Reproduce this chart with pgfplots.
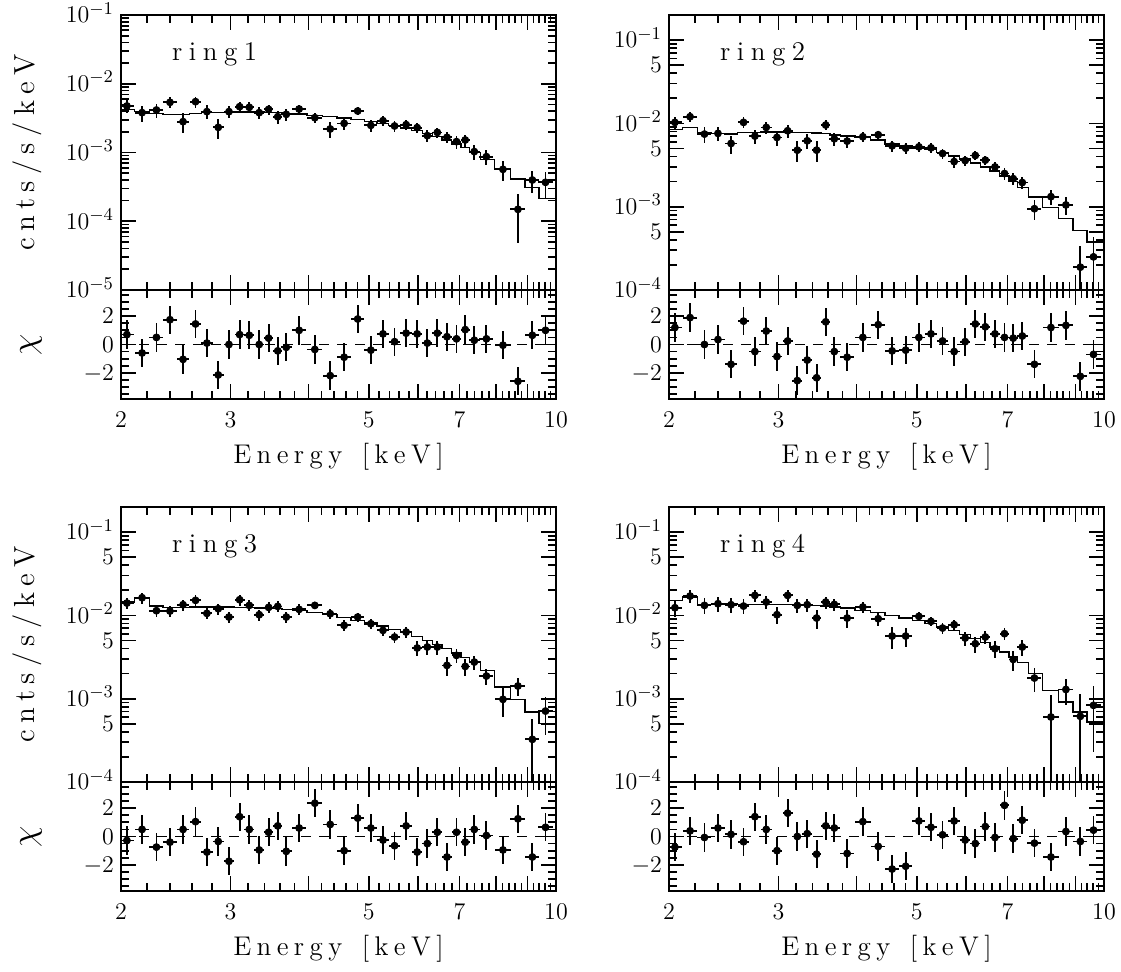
\documentclass[border=0pt]{standalone}
\usepackage{pgfplots}
\usepackage{pgfplotstable}
\pgfplotsset{compat=1.18}
\DeclareMathSizes{12}{12}{8.8}{7}
\DeclareMathSizes{16}{16}{11}{8}
\newcommand{\la}{\kern2.7pt}
\newcommand{\lb}{\kern3.2pt}
\newcommand{\lc}{\kern3.3pt}

\pgfplotstableread{
E xr y ey m chi
2.044 0.0250 4.75e-3 1.0e-3 4.24e-3 0.7
2.162 0.0274 3.80e-3 1.0e-3 3.93e-3 -0.6
2.280 0.0258 4.15e-3 1.0e-3 3.71e-3 0.5
2.397 0.0246 5.37e-3 1.0e-3 3.59e-3 1.75
2.516 0.0236 2.81e-3 0.9e-3 3.59e-3 -1.05
2.635 0.0220 5.49e-3 1.0e-3 3.71e-3 1.45
2.748 0.0210 3.93e-3 0.9e-3 3.80e-3 0.1
2.866 0.0204 2.32e-3 0.75e-3 3.84e-3 -2.15
2.982 0.0198 3.93e-3 0.75e-3 3.84e-3 0.0
3.102 0.0188 4.64e-3 0.8e-3 3.88e-3 0.7
3.215 0.0182 4.54e-3 0.8e-3 3.88e-3 0.65
3.335 0.0180 3.80e-3 0.75e-3 3.88e-3 0.0
3.453 0.0172 4.24e-3 0.75e-3 3.84e-3 0.45
3.572 0.0164 3.32e-3 0.7e-3 3.80e-3 -0.45
3.687 0.0198 3.59e-3 0.7e-3 3.71e-3 -0.2
3.866 0.0264 4.29e-3 0.65e-3 3.63e-3 1.0
4.097 0.0288 3.21e-3 0.55e-3 3.47e-3 -0.35
4.337 0.0272 2.20e-3 0.55e-3 3.32e-3 -2.2
4.566 0.0254 2.65e-3 0.55e-3 3.18e-3 -0.9
4.801 0.0247 4.01e-3 0.55e-3 3.04e-3 1.8
5.041 0.0234 2.48e-3 0.5e-3 2.84e-3 -0.4
5.272 0.0219 2.90e-3 0.45e-3 2.66e-3 0.75
5.503 0.0215 2.43e-3 0.45e-3 2.46e-3 0.2
5.744 0.0210 2.54e-3 0.42e-3 2.27e-3 0.8
5.983 0.0196 2.30e-3 0.4e-3 2.08e-3 0.75
6.212 0.0186 1.76e-3 0.35e-3 1.90e-3 0.1
6.446 0.0181 1.96e-3 0.32e-3 1.70e-3 0.8
6.680 0.0178 1.66e-3 0.3e-3 1.52e-3 0.55
6.921 0.0170 1.44e-3 0.3e-3 1.33e-3 0.4
7.148 0.0165 1.52e-3 0.3e-3 1.19e-3 1.05
7.392 0.0196 1.03e-3 0.25e-3 9.95e-4 0.3
7.731 0.0265 8.70e-4 0.22e-3 7.96e-4 0.4
8.218 0.0292 5.69e-4 0.18e-3 5.69e-4 -0.05
8.686 0.0272 1.49e-4 1.0e-4 4.12e-4 -2.6
9.162 0.0255 3.98e-4 1.4e-4 3.11e-4 0.65
9.619 0.0270 3.68e-4 1.5e-4 2.15e-4 1.0
}\ringA

\pgfplotstableread{
E xr y ey m chi
2.044 0.0250 1.028e-2 1.6e-3 8.47e-3 1.2
2.162 0.0274 1.203e-2 1.6e-3 8.87e-3 1.9
2.280 0.0258 7.44e-3 1.6e-3 7.72e-3 0.0
2.397 0.0246 7.58e-3 1.5e-3 7.58e-3 0.35
2.516 0.0236 5.74e-3 1.4e-3 7.44e-3 -1.4
2.635 0.0220 1.028e-2 1.5e-3 7.72e-3 1.65
2.748 0.0210 7.04e-3 1.4e-3 7.79e-3 -0.5
2.866 0.0204 8.95e-3 1.4e-3 7.86e-3 0.95
2.982 0.0198 6.78e-3 1.4e-3 7.86e-3 -0.85
3.102 0.0188 8.16e-3 1.4e-3 7.86e-3 0.25
3.215 0.0182 4.77e-3 1.3e-3 7.79e-3 -2.55
3.335 0.0180 6.18e-3 1.3e-3 7.72e-3 -1.1
3.453 0.0172 4.77e-3 1.3e-3 7.65e-3 -2.35
3.572 0.0164 9.55e-3 1.3e-3 7.58e-3 1.6
3.687 0.0198 6.53e-3 1.2e-3 7.23e-3 -0.5
3.866 0.0264 6.12e-3 1.1e-3 7.04e-3 -0.9
4.097 0.0288 6.91e-3 0.9e-3 6.78e-3 0.5
4.337 0.0272 7.30e-3 0.85e-3 6.30e-3 1.4
4.566 0.0254 5.38e-3 0.8e-3 5.64e-3 -0.45
4.801 0.0247 5.04e-3 0.75e-3 5.33e-3 -0.4
5.041 0.0234 5.23e-3 0.7e-3 5.09e-3 0.5
5.272 0.0219 5.09e-3 0.65e-3 4.86e-3 0.75
5.503 0.0215 4.35e-3 0.6e-3 4.47e-3 0.25
5.744 0.0210 3.48e-3 0.55e-3 4.04e-3 -0.5
5.983 0.0196 3.58e-3 0.5e-3 3.75e-3 0.2
6.212 0.0186 4.12e-3 0.5e-3 3.36e-3 1.45
6.446 0.0181 3.62e-3 0.45e-3 3.00e-3 1.25
6.680 0.0178 3.00e-3 0.4e-3 2.69e-3 0.75
6.921 0.0170 2.50e-3 0.38e-3 2.34e-3 0.5
7.148 0.0165 2.17e-3 0.35e-3 2.02e-3 0.45
7.392 0.0196 1.95e-3 0.32e-3 1.69e-3 0.6
7.731 0.0265 9.46e-4 0.26e-3 1.31e-3 -1.4
8.218 0.0292 1.32e-3 0.28e-3 9.73e-4 1.2
8.686 0.0272 1.05e-3 0.25e-3 7.17e-4 1.35
9.162 0.0255 1.88e-4 1.45e-4 5.19e-4 -2.25
9.619 0.0270 2.50e-4 1.8e-4 3.75e-4 -0.7
}\ringB

\pgfplotstableread{
E xr y ey m chi
2.044 0.0250 1.406e-2 2.1e-3 1.445e-2 -0.28
2.162 0.0274 1.629e-2 2.4e-3 1.614e-2 0.5
2.280 0.0258 1.138e-2 1.7e-3 1.294e-2 -0.75
2.397 0.0246 1.127e-2 1.7e-3 1.247e-2 -0.4
2.516 0.0236 1.343e-2 2.0e-3 1.247e-2 0.5
2.635 0.0220 1.514e-2 2.3e-3 1.259e-2 1.05
2.748 0.0210 1.057e-2 1.6e-3 1.259e-2 -1.1
2.866 0.0204 1.202e-2 1.8e-3 1.259e-2 -0.35
2.982 0.0198 9.55e-3 1.45e-3 1.259e-2 -1.75
3.102 0.0188 1.542e-2 2.3e-3 1.247e-2 1.4
3.215 0.0182 1.318e-2 2.0e-3 1.236e-2 0.5
3.335 0.0180 1.019e-2 1.55e-3 1.225e-2 -0.95
3.453 0.0172 1.247e-2 1.9e-3 1.225e-2 0.3
3.572 0.0164 1.282e-2 1.9e-3 1.202e-2 0.75
3.687 0.0198 9.55e-3 1.45e-3 1.180e-2 -1.05
3.866 0.0264 1.180e-2 1.75e-3 1.148e-2 0.6
4.097 0.0288 1.318e-2 1.2e-3 1.076e-2 2.35
4.337 0.0272 1.047e-2 1.3e-3 1.019e-2 0.85
4.566 0.0254 7.59e-3 1.1e-3 9.46e-3 -1.0
4.801 0.0247 9.55e-3 1.2e-3 8.71e-3 1.3
5.041 0.0234 7.94e-3 1.1e-3 8.09e-3 0.6
5.272 0.0219 6.61e-3 1.0e-3 7.45e-3 -0.25
5.503 0.0215 5.50e-3 0.85e-3 6.79e-3 -0.65
5.744 0.0210 6.31e-3 0.9e-3 6.19e-3 0.75
5.983 0.0196 4.06e-3 0.8e-3 5.60e-3 -1.1
6.212 0.0186 4.17e-3 0.8e-3 5.01e-3 -0.5
6.446 0.0181 4.17e-3 0.8e-3 4.49e-3 0.3
6.680 0.0178 2.51e-3 0.65e-3 3.98e-3 -1.45
6.921 0.0170 3.31e-3 0.65e-3 3.53e-3 0.3
7.148 0.0165 2.44e-3 0.55e-3 3.13e-3 -0.4
7.392 0.0196 2.75e-3 0.55e-3 2.75e-3 0.5
7.731 0.0265 1.87e-3 0.42e-3 2.19e-3 0.07
8.218 0.0292 9.82e-4 0.38e-3 1.38e-3 -0.95
8.686 0.0272 1.42e-3 0.35e-3 9.82e-4 1.25
9.162 0.0255 3.25e-4 2.5e-4 6.92e-4 -1.45
9.619 0.0270 7.11e-4 3.4e-4 5.01e-4 0.65
}\ringC

\pgfplotstableread{
E xr y ey m chi
2.044 0.0250 1.236e-2 2.8e-3 1.514e-2 -0.75
2.162 0.0274 1.706e-2 3.0e-3 1.660e-2 0.4
2.280 0.0258 1.318e-2 2.8e-3 1.343e-2 -0.07
2.397 0.0246 1.380e-2 2.8e-3 1.368e-2 0.6
2.516 0.0236 1.343e-2 2.7e-3 1.368e-2 0.15
2.635 0.0220 1.294e-2 2.6e-3 1.355e-2 -0.37
2.748 0.0210 1.738e-2 2.8e-3 1.355e-2 1.4
2.866 0.0204 1.445e-2 2.6e-3 1.355e-2 0.5
2.982 0.0198 1.019e-2 2.4e-3 1.355e-2 -1.0
3.102 0.0188 1.738e-2 2.8e-3 1.343e-2 1.65
3.215 0.0182 1.318e-2 2.5e-3 1.343e-2 0.0
3.335 0.0180 1.343e-2 2.5e-3 1.330e-2 0.2
3.453 0.0172 9.29e-3 2.4e-3 1.318e-2 -1.25
3.572 0.0164 1.445e-2 2.4e-3 1.294e-2 0.75
3.687 0.0198 1.355e-2 2.2e-3 1.259e-2 0.6
3.866 0.0264 9.29e-3 2.2e-3 1.225e-2 -1.2
4.097 0.0288 1.259e-2 1.8e-3 1.148e-2 1.05
4.337 0.0272 9.12e-3 1.7e-3 1.076e-2 -0.7
4.566 0.0254 5.65e-3 1.7e-3 1.000e-2 -2.3
4.801 0.0247 5.65e-3 1.5e-3 9.29e-3 -2.1
5.041 0.0234 9.73e-3 1.2e-3 8.63e-3 1.1
5.272 0.0219 8.47e-3 1.1e-3 7.94e-3 0.65
5.503 0.0215 7.05e-3 1.1e-3 7.24e-3 0.12
5.744 0.0210 7.73e-3 1.0e-3 6.61e-3 1.1
5.983 0.0196 5.35e-3 1.0e-3 5.92e-3 -0.25
6.212 0.0186 4.57e-3 1.0e-3 5.25e-3 -0.5
6.446 0.0181 5.50e-3 1.0e-3 4.70e-3 0.7
6.680 0.0178 3.98e-3 0.9e-3 4.17e-3 -0.07
6.921 0.0170 6.03e-3 1.0e-3 3.63e-3 2.2
7.148 0.0165 2.96e-3 0.8e-3 3.16e-3 -0.15
7.392 0.0196 4.17e-3 0.9e-3 2.70e-3 1.15
7.731 0.0265 1.77e-3 0.55e-3 2.00e-3 -0.47
8.218 0.0292 6.03e-4 5.2e-4 1.26e-3 -1.45
8.686 0.0272 1.29e-3 0.45e-3 9.12e-4 0.35
9.162 0.0255 6.14e-4 5.2e-4 6.92e-4 -0.35
9.619 0.0270 8.32e-4 6.0e-4 5.25e-4 0.45
}\ringD

\pgfplotsset{
  every axis/.append style={
    scale only axis, width=217.5pt,
    xmin=2, xmax=10,
    xtick={2,3,4,5,6,7,8,9,10},
    minor xtick={2.2,2.4,2.6,2.8,3.2,3.4,3.6,3.8,4.2,4.4,4.6,4.8,5.2,5.4,5.6,5.8,6.2,6.4,6.6,6.8,7.2,7.4,7.6,7.8,8.2,8.4,8.6,8.8,9.2,9.4,9.6,9.8},
    major tick length=7.5pt, minor tick length=4pt,
    tick style={black, line width=0.85pt},
    axis line style={line width=1.15pt},
    tick label style={font=\fontsize{12}{14}\selectfont},
    yticklabel style={anchor=base east, yshift=-3.9pt},
    xticklabel style={anchor=center, yshift=-10.5pt},
  },
}
\newcommand{\Xl}{E\la n\la e\la r\la g\la y\la\ \la[\la k\la e\la V\la]}
\newcommand{\Yl}{c\lb n\lb t\lb s\lb/\lb s\lb/\lb k\lb e\lb V}

\begin{document}
\begin{tikzpicture}
\path[use as bounding box] (0,0) rectangle (560.5pt,-486pt);

% ---------- ring1 ----------
\begin{axis}[xmode=log, ymode=log, height=137.5pt, xticklabels={},
  at={(60.5pt,-7.5pt)}, anchor=north west,
  ylabel={\Yl}, ylabel style={font=\fontsize{14.5}{16}\selectfont, at={(axis description cs:-0.216,0.5)}, anchor=center},
  ymin=1e-5, ymax=1e-1,
  ytick={1e-5,1e-4,1e-3,1e-2,1e-1},
  yticklabels={$10^{-5}$\hspace{6.5pt},$10^{-4}$\hspace{6.5pt},$10^{-3}$\hspace{6.5pt},$10^{-2}$\hspace{6.5pt},$10^{-1}$\hspace{6.5pt}},
  minor ytick={2e-5,3e-5,4e-5,5e-5,6e-5,7e-5,8e-5,9e-5,2e-4,3e-4,4e-4,5e-4,6e-4,7e-4,8e-4,9e-4,2e-3,3e-3,4e-3,5e-3,6e-3,7e-3,8e-3,9e-3,2e-2,3e-2,4e-2,5e-2,6e-2,7e-2,8e-2,9e-2}]
\addplot[black, line width=0.7pt, const plot mark mid] table[x=E, y=m] {\ringA};
\addplot[black, line width=0.7pt] coordinates {(2,4.24e-3) (2.044,4.24e-3)};
\addplot[black, line width=0.7pt] coordinates {(9.619,2.15e-4) (10,2.15e-4)};
\addplot[only marks, mark=*, mark size=1.75pt, black, error bars/.cd, x dir=both, x explicit relative, y dir=both, y explicit, error bar style={line width=0.9pt, black}, error mark=none] table[x=E, y=y, x error=xr, y error=ey] {\ringA};
\node[anchor=base west, font=\fontsize{13.5}{15}\selectfont] at (rel axis cs:0.101,0.836) {r\lc i\lc n\lc g\lc 1};
\end{axis}
\begin{axis}[xmode=log, height=54.5pt, at={(60.5pt,-145pt)}, anchor=north west,
  ymin=-3.85, ymax=3.85, ytick={-2,0,2}, yticklabels={$-2$,$0$,$2$},
  minor ytick={-3.5,-3,-2.5,-1.5,-1,-0.5,0.5,1,1.5,2.5,3,3.5},
  xticklabels={2,3,,5,,7,,,10},
  xlabel={\Xl}, xlabel style={font=\fontsize{13.5}{15}\selectfont, at={(axis description cs:0.5,0)}, anchor=center, yshift=-29pt},
  ylabel={$\chi$}, ylabel style={font=\fontsize{16}{18}\selectfont, at={(axis description cs:-0.207,0.5)}, anchor=center}]
\addplot[black, line width=0.9pt, dash pattern=on 5pt off 4pt] coordinates {(2,0) (10,0)};
\addplot[only marks, mark=*, mark size=1.75pt, black, error bars/.cd, x dir=both, x explicit relative, y dir=both, y fixed=1, error bar style={line width=0.9pt, black}, error mark=none] table[x=E, y=chi, x error=xr] {\ringA};
\end{axis}

% ---------- ring2 ----------
\begin{axis}[xmode=log, ymode=log, height=137.5pt, xticklabels={},
  at={(334.5pt,-7.5pt)}, anchor=north west,
  ymin=1e-4, ymax=0.2,
  ytick={1e-4,5e-4,1e-3,5e-3,1e-2,5e-2,1e-1},
  yticklabels={$10^{-4}$\hspace{6.5pt},5,$10^{-3}$\hspace{6.5pt},5,$10^{-2}$\hspace{6.5pt},5,$10^{-1}$\hspace{6.5pt}},
  minor ytick={2e-4,3e-4,4e-4,6e-4,7e-4,8e-4,9e-4,2e-3,3e-3,4e-3,6e-3,7e-3,8e-3,9e-3,2e-2,3e-2,4e-2,6e-2,7e-2,8e-2,9e-2}]
\addplot[black, line width=0.7pt, const plot mark mid] table[x=E, y=m] {\ringB};
\addplot[black, line width=0.7pt] coordinates {(2,8.47e-3) (2.044,8.47e-3)};
\addplot[black, line width=0.7pt] coordinates {(9.619,3.75e-4) (10,3.75e-4)};
\addplot[only marks, mark=*, mark size=1.75pt, black, error bars/.cd, x dir=both, x explicit relative, y dir=both, y explicit, error bar style={line width=0.9pt, black}, error mark=none] table[x=E, y=y, x error=xr, y error=ey] {\ringB};
\node[anchor=base west, font=\fontsize{13.5}{15}\selectfont] at (rel axis cs:0.101,0.836) {r\lc i\lc n\lc g\lc 2};
\end{axis}
\begin{axis}[xmode=log, height=54.5pt, at={(334.5pt,-145pt)}, anchor=north west,
  ymin=-3.85, ymax=3.85, ytick={-2,0,2}, yticklabels={$-2$,$0$,$2$},
  minor ytick={-3.5,-3,-2.5,-1.5,-1,-0.5,0.5,1,1.5,2.5,3,3.5},
  xticklabels={2,3,,5,,7,,,10},
  xlabel={\Xl}, xlabel style={font=\fontsize{13.5}{15}\selectfont, at={(axis description cs:0.5,0)}, anchor=center, yshift=-29pt}]
\addplot[black, line width=0.9pt, dash pattern=on 5pt off 4pt] coordinates {(2,0) (10,0)};
\addplot[only marks, mark=*, mark size=1.75pt, black, error bars/.cd, x dir=both, x explicit relative, y dir=both, y fixed=1, error bar style={line width=0.9pt, black}, error mark=none] table[x=E, y=chi, x error=xr] {\ringB};
\end{axis}

% ---------- ring3 ----------
\begin{axis}[xmode=log, ymode=log, height=137.5pt, xticklabels={},
  at={(60.5pt,-253.5pt)}, anchor=north west,
  ylabel={\Yl}, ylabel style={font=\fontsize{14.5}{16}\selectfont, at={(axis description cs:-0.216,0.5)}, anchor=center},
  ymin=1e-4, ymax=0.2,
  ytick={1e-4,5e-4,1e-3,5e-3,1e-2,5e-2,1e-1},
  yticklabels={$10^{-4}$\hspace{6.5pt},5,$10^{-3}$\hspace{6.5pt},5,$10^{-2}$\hspace{6.5pt},5,$10^{-1}$\hspace{6.5pt}},
  minor ytick={2e-4,3e-4,4e-4,6e-4,7e-4,8e-4,9e-4,2e-3,3e-3,4e-3,6e-3,7e-3,8e-3,9e-3,2e-2,3e-2,4e-2,6e-2,7e-2,8e-2,9e-2}]
\addplot[black, line width=0.7pt, const plot mark mid] table[x=E, y=m] {\ringC};
\addplot[black, line width=0.7pt] coordinates {(2,1.445e-2) (2.044,1.445e-2)};
\addplot[black, line width=0.7pt] coordinates {(9.619,5.01e-4) (10,5.01e-4)};
\addplot[only marks, mark=*, mark size=1.75pt, black, error bars/.cd, x dir=both, x explicit relative, y dir=both, y explicit, error bar style={line width=0.9pt, black}, error mark=none] table[x=E, y=y, x error=xr, y error=ey] {\ringC};
\node[anchor=base west, font=\fontsize{13.5}{15}\selectfont] at (rel axis cs:0.101,0.836) {r\lc i\lc n\lc g\lc 3};
\end{axis}
\begin{axis}[xmode=log, height=54.5pt, at={(60.5pt,-391pt)}, anchor=north west,
  ymin=-3.85, ymax=3.85, ytick={-2,0,2}, yticklabels={$-2$,$0$,$2$},
  minor ytick={-3.5,-3,-2.5,-1.5,-1,-0.5,0.5,1,1.5,2.5,3,3.5},
  xticklabels={2,3,,5,,7,,,10},
  xlabel={\Xl}, xlabel style={font=\fontsize{13.5}{15}\selectfont, at={(axis description cs:0.5,0)}, anchor=center, yshift=-29pt},
  ylabel={$\chi$}, ylabel style={font=\fontsize{16}{18}\selectfont, at={(axis description cs:-0.207,0.5)}, anchor=center}]
\addplot[black, line width=0.9pt, dash pattern=on 5pt off 4pt] coordinates {(2,0) (10,0)};
\addplot[only marks, mark=*, mark size=1.75pt, black, error bars/.cd, x dir=both, x explicit relative, y dir=both, y fixed=1, error bar style={line width=0.9pt, black}, error mark=none] table[x=E, y=chi, x error=xr] {\ringC};
\end{axis}

% ---------- ring4 ----------
\begin{axis}[xmode=log, ymode=log, height=137.5pt, xticklabels={},
  at={(334.5pt,-253.5pt)}, anchor=north west,
  ymin=1e-4, ymax=0.2,
  ytick={1e-4,5e-4,1e-3,5e-3,1e-2,5e-2,1e-1},
  yticklabels={$10^{-4}$\hspace{6.5pt},5,$10^{-3}$\hspace{6.5pt},5,$10^{-2}$\hspace{6.5pt},5,$10^{-1}$\hspace{6.5pt}},
  minor ytick={2e-4,3e-4,4e-4,6e-4,7e-4,8e-4,9e-4,2e-3,3e-3,4e-3,6e-3,7e-3,8e-3,9e-3,2e-2,3e-2,4e-2,6e-2,7e-2,8e-2,9e-2}]
\addplot[black, line width=0.7pt, const plot mark mid] table[x=E, y=m] {\ringD};
\addplot[black, line width=0.7pt] coordinates {(2,1.514e-2) (2.044,1.514e-2)};
\addplot[black, line width=0.7pt] coordinates {(9.619,5.25e-4) (10,5.25e-4)};
\addplot[only marks, mark=*, mark size=1.75pt, black, error bars/.cd, x dir=both, x explicit relative, y dir=both, y explicit, error bar style={line width=0.9pt, black}, error mark=none] table[x=E, y=y, x error=xr, y error=ey] {\ringD};
\node[anchor=base west, font=\fontsize{13.5}{15}\selectfont] at (rel axis cs:0.101,0.836) {r\lc i\lc n\lc g\lc 4};
\end{axis}
\begin{axis}[xmode=log, height=54.5pt, at={(334.5pt,-391pt)}, anchor=north west,
  ymin=-3.85, ymax=3.85, ytick={-2,0,2}, yticklabels={$-2$,$0$,$2$},
  minor ytick={-3.5,-3,-2.5,-1.5,-1,-0.5,0.5,1,1.5,2.5,3,3.5},
  xticklabels={2,3,,5,,7,,,10},
  xlabel={\Xl}, xlabel style={font=\fontsize{13.5}{15}\selectfont, at={(axis description cs:0.5,0)}, anchor=center, yshift=-29pt}]
\addplot[black, line width=0.9pt, dash pattern=on 5pt off 4pt] coordinates {(2,0) (10,0)};
\addplot[only marks, mark=*, mark size=1.75pt, black, error bars/.cd, x dir=both, x explicit relative, y dir=both, y fixed=1, error bar style={line width=0.9pt, black}, error mark=none] table[x=E, y=chi, x error=xr] {\ringD};
\end{axis}
\end{tikzpicture}
\end{document}
